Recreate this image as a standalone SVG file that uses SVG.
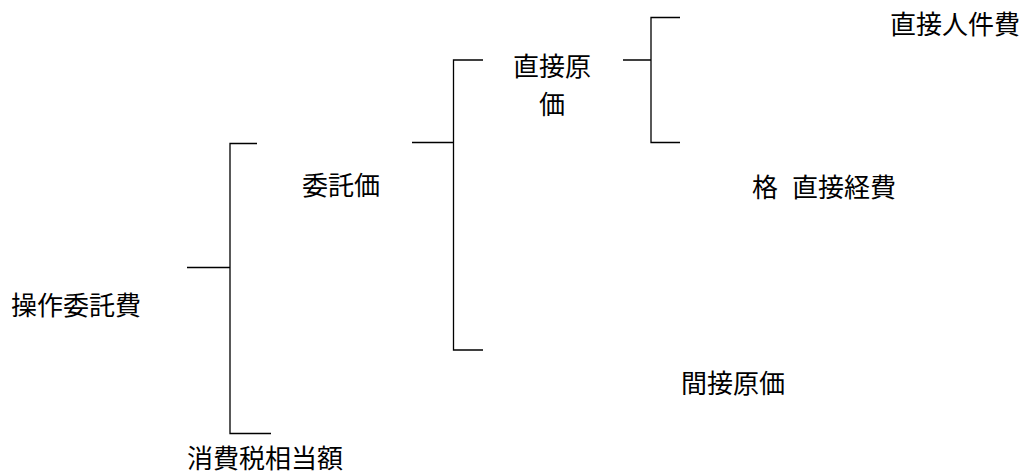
<svg xmlns="http://www.w3.org/2000/svg" width="1023" height="475" viewBox="0 0 1023 475">
<style>
.t{font-family:"Noto Sans CJK JP","Noto Sans CJK SC",sans-serif;font-size:26px;fill:#000}
.c{fill:none;stroke:#000;stroke-width:1.3}
</style>
<rect width="1023" height="475" fill="#fff"/>
<g id="connectors">
<path class="c" d="M187,267.5 H230 M257,143.5 H230 V433.5 H271"/>
<path class="c" d="M412,142.5 H453.5 M483,60 H453.5 V350 H483"/>
<path class="c" d="M623,60 H651 M680,17.5 H651 V142.5 H680"/>
</g>
<g id="n-sousa"><text class="t" x="11" y="315">操作委託費</text></g>
<g id="n-itaku"><text class="t" x="302" y="195">委託価</text></g>
<g id="n-shohi"><text class="t" x="187" y="468">消費税相当額</text></g>
<g id="n-chokusetsu"><text class="t" x="513" y="76">直接原</text><text class="t" x="539" y="114">価</text></g>
<g id="n-kan"><text class="t" x="681" y="393">間接原価</text></g>
<g id="n-jinken"><text class="t" x="890" y="34">直接人件費</text></g>
<g id="n-keihi"><text class="t" x="752" y="197">格</text><text class="t" x="792" y="197">直接経費</text></g>
</svg>
